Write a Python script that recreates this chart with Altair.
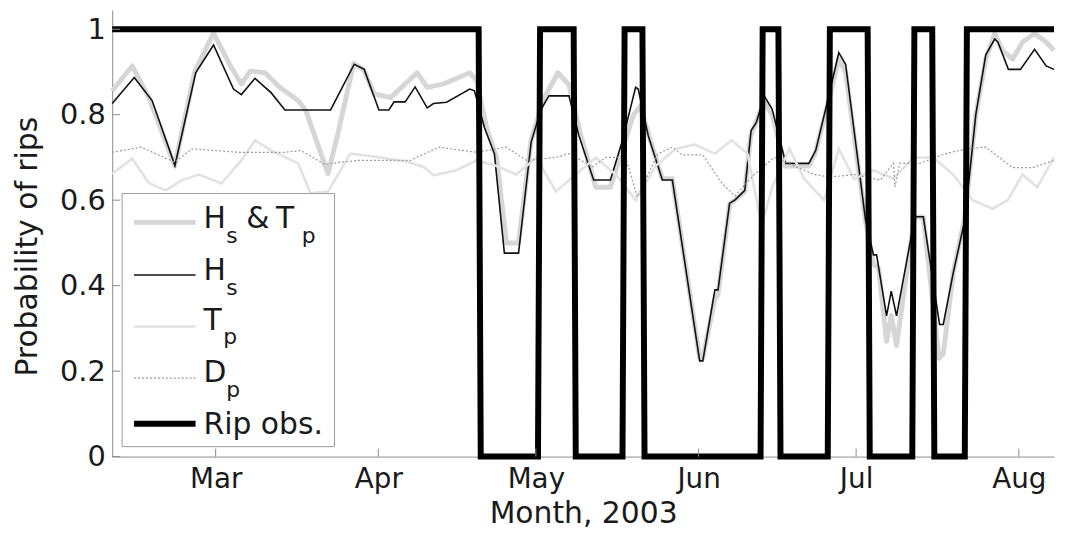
import altair as alt
import pandas as pd

# ---------------- data (x = day of year 2003, Jan 1 = 1) ----------------
month_doy = [60, 91, 121, 152, 182, 213]
month_labels = ["Mar", "Apr", "May", "Jun", "Jul", "Aug"]
y_ticks = [0, 0.2, 0.4, 0.6, 0.8, 1]

hstp_doy = [40.3, 44.1, 47.3, 52.2, 56.0, 59.6, 63.0, 64.9, 66.6, 69.4, 72.2, 75.7, 77.2, 81.4, 83.3,
            86.3, 88.2, 90.2, 93.3, 98.4, 100.3, 103.4, 108.4, 109.7, 111.6, 113.5, 115.4, 117.7, 120.1,
            122.6, 125.2, 127.3, 129.6, 132.4, 135.2, 137.5, 139.6, 140.9, 142.8, 145.1, 147.0, 152.2,
            152.8, 155.1, 155.7, 157.9, 160.8, 161.9, 164.5, 166.0, 168.5, 173.0, 174.2, 176.1, 178.7,
            180.0, 183.8, 185.3, 186.3, 187.8, 188.7, 189.7, 193.1, 194.8, 197.8, 198.6, 200.5, 202.7,
            204.8, 206.7, 208.4, 209.9, 211.8, 213.7, 216.0, 218.2, 219.7]
hstp_val = [0.856, 0.914, 0.84, 0.68, 0.90, 0.991, 0.91, 0.872, 0.902, 0.898, 0.864, 0.833, 0.809, 0.662, 0.756,
            0.92, 0.905, 0.849, 0.84, 0.898, 0.864, 0.872, 0.898, 0.88, 0.77, 0.70, 0.50, 0.50, 0.74,
            0.84, 0.898, 0.87, 0.75, 0.63, 0.63, 0.72, 0.80, 0.82, 0.74, 0.65, 0.65, 0.23,
            0.23, 0.37, 0.38, 0.59, 0.62, 0.75, 0.83, 0.80, 0.68, 0.68, 0.71, 0.80, 0.93,
            0.90, 0.55, 0.45, 0.44, 0.27, 0.33, 0.26, 0.56, 0.56, 0.23, 0.24, 0.43, 0.56,
            0.80, 0.93, 0.99, 0.95, 0.93, 0.97, 0.99, 0.97, 0.95]

hs_doy = [40.3, 44.5, 47.9, 52.25, 56.2, 59.6, 63.4, 64.9, 67.5, 70.6, 73.2, 81.9, 86.4, 88.3, 91.1, 93.0,
          94.0, 96.1, 98.0, 100.3, 101.5, 104.0, 108.4, 109.3, 111.2, 113.1, 115.0, 117.7, 120.1, 122.0,
          123.5, 127.3, 129.2, 132.0, 135.2, 137.5, 140.0, 140.5, 142.4, 145.1, 147.0, 152.2, 152.8,
          155.1, 155.7, 157.9, 158.9, 160.8, 162.0, 163.0, 164.5, 166.0, 168.6, 173.0, 174.3, 176.2,
          178.7, 180.0, 183.8, 185.3, 185.9, 187.8, 188.7, 189.7, 193.2, 194.8, 197.9, 198.6, 200.5,
          202.7, 204.8, 206.7, 208.4, 209.0, 211.0, 213.3, 216.0, 218.2, 219.7]
hs_val = [0.826, 0.887, 0.833, 0.681, 0.898, 0.963, 0.86, 0.847, 0.885, 0.851, 0.811, 0.811, 0.918, 0.906, 0.811, 0.811,
          0.830, 0.830, 0.865, 0.816, 0.826, 0.829, 0.860, 0.856, 0.770, 0.709, 0.476, 0.476, 0.736, 0.813,
          0.844, 0.844, 0.751, 0.647, 0.647, 0.74, 0.864, 0.86, 0.751, 0.647, 0.647, 0.224, 0.224,
          0.39, 0.39, 0.593, 0.60, 0.623, 0.763, 0.782, 0.844, 0.813, 0.686, 0.686, 0.716, 0.813,
          0.945, 0.918, 0.553, 0.472, 0.472, 0.329, 0.387, 0.329, 0.561, 0.561, 0.309, 0.309, 0.43,
          0.553, 0.80, 0.94, 0.977, 0.97, 0.906, 0.906, 0.953, 0.914, 0.906]

tp_doy = [40.3, 44.1, 47.3, 50.5, 53.6, 56.8, 61.1, 64.9, 67.5, 70.6, 75.7, 78.1, 81.4, 85.7, 91.4, 96.5,
          99.7, 101.6, 105.9, 109.7, 113.5, 117.3, 121.1, 124.8, 128.6, 132.4, 136.2, 140.0, 143.8, 147.6,
          151.3, 155.1, 158.3, 161.3, 164.0, 166.0, 169.3, 172.1, 175.9, 178.7, 181.6, 185.3, 189.1,
          192.9, 196.7, 200.5, 204.2, 208.0, 210.9, 213.7, 216.5, 219.7]
tp_val = [0.662, 0.697, 0.64, 0.623, 0.647, 0.66, 0.639, 0.693, 0.74, 0.716, 0.686, 0.616, 0.62, 0.709, 0.70, 0.69,
          0.677, 0.658, 0.67, 0.693, 0.68, 0.66, 0.70, 0.62, 0.66, 0.70, 0.66, 0.60, 0.68, 0.72,
          0.73, 0.709, 0.74, 0.709, 0.54, 0.63, 0.72, 0.65, 0.60, 0.72, 0.65, 0.67, 0.65,
          0.70, 0.70, 0.66, 0.60, 0.58, 0.60, 0.66, 0.63, 0.70]

dp_doy = [40.3, 45.8, 52.2, 55.5, 64.3, 73.2, 76.3, 80.7, 87.0, 97.1, 102.5, 109.7, 115.4, 119.2, 124.8,
          127.3, 131.8, 134.3, 138.1, 140.3, 144.3, 147.0, 148.8, 152.8, 156.4, 158.9, 162.6, 166.4,
          170.2, 174.0, 177.1, 181.6, 186.6, 189.1, 189.4, 190.3, 194.1, 199.1, 202.9, 206.7, 211.8,
          215.6, 219.7]
dp_val = [0.712, 0.724, 0.689, 0.72, 0.712, 0.712, 0.716, 0.684, 0.693, 0.693, 0.724, 0.712, 0.724, 0.693, 0.70,
          0.709, 0.678, 0.70, 0.70, 0.608, 0.709, 0.724, 0.706, 0.706, 0.64, 0.61, 0.66, 0.70,
          0.68, 0.66, 0.654, 0.66, 0.647, 0.686, 0.631, 0.686, 0.686, 0.709, 0.72, 0.724, 0.676,
          0.676, 0.693]

rip_doy = [40.3, 110.1, 110.5, 121.4, 121.8, 128.2, 128.6, 137.5, 137.9, 141.3, 141.7, 163.8, 164.2,
           167.2, 167.6, 176.6, 177.0, 184.2, 184.6, 192.7, 193.1, 196.5, 196.9, 202.7, 203.1, 219.7]
rip_val = [1, 1, 0, 0, 1, 1, 0, 0, 1, 1, 0, 0, 1, 1, 0, 0, 1, 1, 0, 0, 1, 1, 0, 0, 1, 1]

legend_rows = ["H|s & T|p", "H|s", "T|p", "D|p", "Rip obs."]

# ---------------- layout ----------------
W, H = 949, 450
FONT = "DejaVu Sans"
AXIS_GRAY = "#8c8c8c"
TXT = "#1a1a1a"

label_expr = " : ".join(f"datum.value == {d} ? '{m}'" for d, m in zip(month_doy, month_labels)) + " : ''"

x_enc = alt.X("doy:Q",
              scale=alt.Scale(domain=[40.3, 219.7], nice=False, zero=False),
              axis=alt.Axis(values=month_doy, labelExpr=label_expr, title="Month, 2003",
                            grid=False, ticks=False, tickSize=0, labelPadding=31,
                            labelBaseline="alphabetic", labelFontSize=28, labelFont=FONT,
                            labelColor=TXT, titleFontSize=30, titleFont=FONT,
                            titleFontWeight="normal", titleColor=TXT,
                            titleX=474.5, titleY=66, titleBaseline="alphabetic",
                            domainColor=AXIS_GRAY, labelFlush=False, labelOverlap=False))
y_enc = alt.Y("val:Q",
              scale=alt.Scale(domain=[0, 1.045], nice=False, zero=False),
              axis=alt.Axis(values=y_ticks, format=".1~f", title="Probability of rips",
                            grid=False, ticks=False, tickSize=0, labelPadding=7,
                            labelFontSize=29, labelFont=FONT, labelColor=TXT,
                            titleFontSize=30, titleFont=FONT, titleFontWeight="normal",
                            titleColor=TXT, titleAngle=-90, titleX=-76, titleY=238,
                            titleAlign="center", titleBaseline="alphabetic",
                            domainColor=AXIS_GRAY, labelFlush=False, labelOverlap=False))


def series(doy, val):
    return pd.DataFrame({"doy": doy, "val": val})


one = pd.DataFrame({"k": [0]})

l_hstp = alt.Chart(series(hstp_doy, hstp_val)).mark_line(
    color="#d6d6d6", strokeWidth=5, strokeJoin="round").encode(x=x_enc, y=y_enc)
l_hs = alt.Chart(series(hs_doy, hs_val)).mark_line(
    color="#111111", strokeWidth=1.6).encode(x=x_enc, y=y_enc)
l_tp = alt.Chart(series(tp_doy, tp_val)).mark_line(
    color="#e2e2e2", strokeWidth=2.6).encode(x=x_enc, y=y_enc)
l_dp = alt.Chart(series(dp_doy, dp_val)).mark_line(
    color="#9a9a9a", strokeWidth=1.2, strokeDash=[2, 2]).encode(x=x_enc, y=y_enc)
l_rip = alt.Chart(series(rip_doy, rip_val)).mark_line(
    color="#000000", strokeWidth=6, strokeJoin="miter", strokeCap="butt").encode(x=x_enc, y=y_enc)

# inward ticks
xt = alt.Chart(pd.DataFrame({"doy": month_doy})).mark_rule(color=AXIS_GRAY, strokeWidth=1).encode(
    x=x_enc, y=alt.value(H), y2=alt.value(H - 8))
yt = alt.Chart(pd.DataFrame({"val": y_ticks})).mark_rule(color=AXIS_GRAY, strokeWidth=1).encode(
    y=y_enc, x=alt.value(0), x2=alt.value(8))

# ---------------- legend ----------------
box = alt.Chart(one).mark_rect(fill="white", stroke="#9a9a9a", strokeWidth=1).encode(
    x=alt.value(10), x2=alt.value(224), y=alt.value(185), y2=alt.value(440))

row_line_y = [214, 267, 319, 371, 417]
row_base_y = [220, 272, 322, 375, 427]
styles = [dict(color="#d6d6d6", strokeWidth=5),
          dict(color="#111111", strokeWidth=1.6),
          dict(color="#e2e2e2", strokeWidth=2.6),
          dict(color="#9a9a9a", strokeWidth=1.2, strokeDash=[2, 2]),
          dict(color="#000000", strokeWidth=6, strokeCap="butt")]

legend_layers = [box]
for ly, st in zip(row_line_y, styles):
    legend_layers.append(alt.Chart(one).mark_rule(**st).encode(
        x=alt.value(22), x2=alt.value(84), y=alt.value(ly)))


def txt(s, x, y, size):
    return alt.Chart(one).mark_text(text=s, font=FONT, fontSize=size, align="left",
                                    baseline="alphabetic", color=TXT).encode(
        x=alt.value(x), y=alt.value(y))


main_size, sub_size = 30, 22
# row 0: H_s & T_p
legend_layers += [txt("H", 92, row_base_y[0], main_size), txt("s", 115, row_base_y[0] + 15, sub_size),
                  txt("&", 135, row_base_y[0], main_size), txt("T", 165, row_base_y[0], main_size),
                  txt("p", 191, row_base_y[0] + 15, sub_size)]
# row 1: H_s
legend_layers += [txt("H", 92, row_base_y[1], main_size), txt("s", 115, row_base_y[1] + 15, sub_size)]
# row 2: T_p
legend_layers += [txt("T", 92, row_base_y[2], main_size), txt("p", 112, row_base_y[2] + 15, sub_size)]
# row 3: D_p
legend_layers += [txt("D", 92, row_base_y[3], main_size), txt("p", 115, row_base_y[3] + 15, sub_size)]
# row 4: Rip obs.
legend_layers += [txt(legend_rows[4], 92, row_base_y[4], main_size)]

chart = alt.layer(l_hstp, l_hs, l_tp, l_dp, l_rip, xt, yt, *legend_layers).properties(
    width=W, height=H, autosize="none",
    padding={"left": 105, "top": 0, "right": 4, "bottom": 74},
    background="white",
).configure_view(stroke=None)

chart.save("out.html", embed_options={"renderer": "svg", "actions": False})
